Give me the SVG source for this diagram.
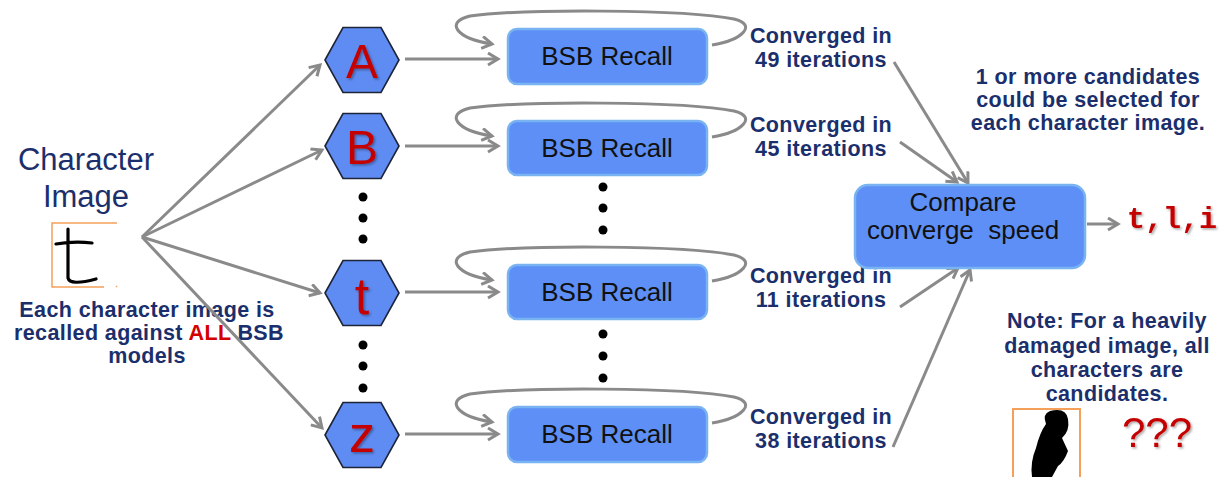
<svg xmlns="http://www.w3.org/2000/svg" width="1228" height="477" viewBox="0 0 1228 477">
  <style>
    .navy { fill: #1b2f6c; font-family: "Liberation Sans", Arial, sans-serif; }
    .lbl { font-size: 21.5px; font-weight: bold; text-anchor: middle; letter-spacing: 0.4px; }
    .hex { fill: #5f8cf2; stroke: #1d2438; stroke-width: 1.6; }
    .hexl { fill: #c40000; font-family: "Liberation Sans", Arial, sans-serif; text-anchor: middle; }
    .box { fill: #5d8ff6; stroke: #79b3f2; stroke-width: 2.5; }
    .boxt { fill: #111; font-family: "Liberation Sans", Arial, sans-serif; font-size: 26px; text-anchor: middle; }
    .con { fill: none; stroke: #8a8a8a; stroke-width: 3; marker-end: url(#arr); }
    .dot { fill: #000; }
  </style>
  <defs>
    <marker id="arr" markerUnits="userSpaceOnUse" markerWidth="16" markerHeight="16" refX="11" refY="7" orient="auto">
      <path d="M1,1 L11,7 L1,13" fill="none" stroke="#8a8a8a" stroke-width="3"/>
    </marker>
    <filter id="shadow" x="-20%" y="-20%" width="140%" height="140%">
      <feDropShadow dx="1.5" dy="1.5" stdDeviation="1" flood-color="#000" flood-opacity="0.35"/>
    </filter>
    <!-- self-loop over a recall box whose top edge is at y=29 -->
    <path id="loop" d="M712 45 C742 40 758 25 734 19 C684 9 520 9 470 16 C445 22 455 38 492 44"/>
  </defs>

  <!-- input character image -->
  <g id="input">
    <text class="navy" x="86" y="170" font-size="31" text-anchor="middle">Character</text>
    <text class="navy" x="86" y="207" font-size="31" text-anchor="middle">Image</text>
    <path d="M117 223 L52 223 L52 287 L104 287 M116 286 L117 287" fill="none" stroke="#f5a05a" stroke-width="1.5"/>
    <path d="M56 244 Q74 241 92 243 M68 229 L68 278 Q70 286 96 279" fill="none" stroke="#000" stroke-width="3.2" stroke-linecap="round"/>
    <text class="navy lbl" x="147" y="317">Each character image is</text>
    <text class="navy lbl" x="149" y="340">recalled against <tspan fill="#d40000">ALL</tspan> BSB</text>
    <text class="navy lbl" x="147" y="363">models</text>
  </g>

  <!-- connectors -->
  <g id="connectors">
    <line class="con" x1="142" y1="237" x2="320" y2="65"/>
    <line class="con" x1="142" y1="237" x2="322" y2="150"/>
    <line class="con" x1="142" y1="237" x2="320" y2="293"/>
    <line class="con" x1="142" y1="237" x2="322" y2="428"/>

    <line class="con" x1="405" y1="59" x2="498" y2="59"/>
    <line class="con" x1="405" y1="146" x2="498" y2="146"/>
    <line class="con" x1="405" y1="292" x2="498" y2="292"/>
    <line class="con" x1="405" y1="434" x2="498" y2="434"/>

    <use href="#loop" class="con"/>
    <use href="#loop" class="con" transform="translate(0 92)"/>
    <use href="#loop" class="con" transform="translate(0 236)"/>
    <use href="#loop" class="con" transform="translate(0 378)"/>

    <line class="con" x1="894" y1="62" x2="968" y2="183"/>
    <line class="con" x1="900" y1="142" x2="957" y2="182"/>
    <line class="con" x1="900" y1="307" x2="958" y2="268"/>
    <line class="con" x1="893" y1="447" x2="970" y2="270"/>

    <line class="con" x1="1087" y1="224" x2="1118" y2="224"/>
  </g>

  <!-- model hexagons -->
  <g id="hexA">
    <polygon class="hex" points="325,60 343,27.5 381,27.5 399,60 381,92.5 343,92.5"/>
    <text class="hexl" x="362" y="78" font-size="48" filter="url(#shadow)">A</text>
  </g>
  <g id="hexB">
    <polygon class="hex" points="325,146 343,113.5 381,113.5 399,146 381,178.5 343,178.5"/>
    <text class="hexl" x="362" y="164" font-size="48" filter="url(#shadow)">B</text>
  </g>
  <g id="hexT">
    <polygon class="hex" points="325,293 343,260.5 381,260.5 399,293 381,325.5 343,325.5"/>
    <text class="hexl" x="362" y="314" font-size="52" filter="url(#shadow)">t</text>
  </g>
  <g id="hexZ">
    <polygon class="hex" points="325,435 343,402.5 381,402.5 399,435 381,467.5 343,467.5"/>
    <text class="hexl" x="362" y="452" font-size="52" filter="url(#shadow)">z</text>
  </g>
  <g id="hexDots">
    <circle class="dot" cx="363" cy="197" r="4.5"/>
    <circle class="dot" cx="363" cy="218" r="4.5"/>
    <circle class="dot" cx="363" cy="239" r="4.5"/>
    <circle class="dot" cx="363" cy="345" r="4.5"/>
    <circle class="dot" cx="363" cy="366" r="4.5"/>
    <circle class="dot" cx="363" cy="388" r="4.5"/>
  </g>

  <!-- BSB recall boxes -->
  <g id="recallA">
    <rect class="box" x="508" y="29" width="199" height="55" rx="9"/>
    <text class="boxt" x="607" y="65">BSB Recall</text>
  </g>
  <g id="recallB">
    <rect class="box" x="508" y="121" width="199" height="54" rx="9"/>
    <text class="boxt" x="607" y="157">BSB Recall</text>
  </g>
  <g id="recallT">
    <rect class="box" x="508" y="265" width="199" height="54" rx="9"/>
    <text class="boxt" x="607" y="301">BSB Recall</text>
  </g>
  <g id="recallZ">
    <rect class="box" x="508" y="407" width="199" height="55" rx="9"/>
    <text class="boxt" x="607" y="443">BSB Recall</text>
  </g>
  <g id="boxDots">
    <circle class="dot" cx="603" cy="187" r="4.5"/>
    <circle class="dot" cx="603" cy="208" r="4.5"/>
    <circle class="dot" cx="603" cy="230" r="4.5"/>
    <circle class="dot" cx="603" cy="334" r="4.5"/>
    <circle class="dot" cx="603" cy="356" r="4.5"/>
    <circle class="dot" cx="603" cy="378" r="4.5"/>
  </g>

  <!-- convergence labels -->
  <g id="convA">
    <text class="navy lbl" x="821" y="43">Converged in</text>
    <text class="navy lbl" x="821" y="67">49 iterations</text>
  </g>
  <g id="convB">
    <text class="navy lbl" x="821" y="132">Converged in</text>
    <text class="navy lbl" x="821" y="156">45 iterations</text>
  </g>
  <g id="convT">
    <text class="navy lbl" x="821" y="283">Converged in</text>
    <text class="navy lbl" x="821" y="307">11 iterations</text>
  </g>
  <g id="convZ">
    <text class="navy lbl" x="821" y="424">Converged in</text>
    <text class="navy lbl" x="821" y="448">38 iterations</text>
  </g>

  <!-- comparison and result -->
  <g id="compare">
    <rect class="box" x="855" y="185" width="230" height="83" rx="13"/>
    <text class="boxt" x="963" y="211">Compare</text>
    <text class="boxt" x="963" y="239" xml:space="preserve">converge  speed</text>
  </g>
  <g id="result">
    <text x="1127" y="228" fill="#c40000" font-family="'Liberation Mono', 'Courier New', monospace" font-size="30" font-weight="bold" filter="url(#shadow)">t,l,i</text>
  </g>

  <g id="noteCandidates">
    <text class="navy lbl" x="1088" y="84">1 or more candidates</text>
    <text class="navy lbl" x="1088" y="107">could be selected for</text>
    <text class="navy lbl" x="1088" y="130">each character image.</text>
  </g>

  <g id="noteDamaged">
    <text class="navy lbl" x="1107" y="328">Note: For a heavily</text>
    <text class="navy lbl" x="1107" y="353">damaged image, all</text>
    <text class="navy lbl" x="1107" y="377">characters are</text>
    <text class="navy lbl" x="1107" y="401">candidates.</text>
    <path d="M1013 477 L1013 409 L1080 409 L1080 477" fill="none" stroke="#f5a05a" stroke-width="2"/>
    <path d="M1050 411 Q1066 407 1068 419 Q1070 431 1062 438 L1068 451 Q1064 462 1058 466 L1052 477 L1032 477 Q1030 462 1036 448 Q1040 432 1046 424 Q1042 414 1050 411 Z" fill="#000"/>
    <text x="1157" y="447" fill="#c40000" font-family="'Liberation Sans', Arial, sans-serif" font-size="42" text-anchor="middle" filter="url(#shadow)">???</text>
  </g>
</svg>
